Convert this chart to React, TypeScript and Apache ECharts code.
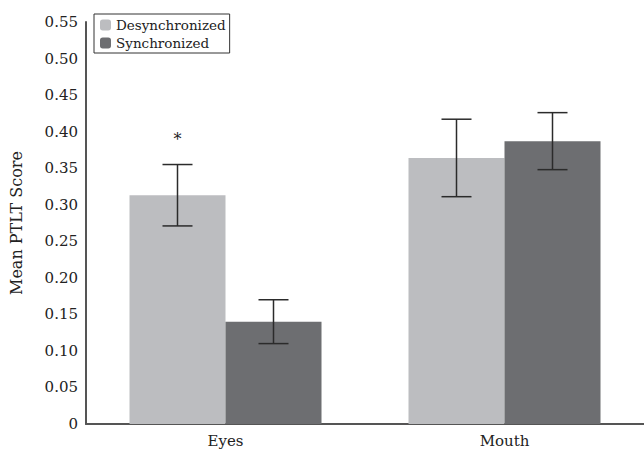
import React, { useEffect, useRef } from "react";
import * as echarts from "echarts";

const categories = ["Eyes", "Mouth"];
const desyncMeans = [0.313, 0.364];
const desyncErrors = [0.042, 0.053];
const syncMeans = [0.14, 0.387];
const syncErrors = [0.03, 0.039];
const desyncMarks = ["*", ""];
const syncMarks = ["", ""];
const yTicks = [0, 0.05, 0.1, 0.15, 0.2, 0.25, 0.3, 0.35, 0.4, 0.45, 0.5, 0.55];

const FONT = "'DejaVu Serif', 'Liberation Serif', serif";
const BAR_W = 96;

function errorSeries(name: string, means: number[], errs: number[], marks: string[], offset: number) {
  return {
    type: "custom",
    name: name + " error",
    z: 10,
    silent: true,
    data: means.map((m, i) => [i, m, errs[i]]),
    renderItem: (params: any, api: any) => {
      const i = api.value(0);
      const m = api.value(1);
      const e = api.value(2);
      const top = api.coord([i, m + e]);
      const bot = api.coord([i, m - e]);
      const x = top[0] + offset;
      const cap = 15;
      const stroke = { stroke: "#2b2b2b", lineWidth: 1.5 };
      const children: any[] = [
        { type: "line", shape: { x1: x, y1: top[1], x2: x, y2: bot[1] }, style: stroke },
        { type: "line", shape: { x1: x - cap, y1: top[1], x2: x + cap, y2: top[1] }, style: stroke },
        { type: "line", shape: { x1: x - cap, y1: bot[1], x2: x + cap, y2: bot[1] }, style: stroke },
      ];
      const mark = marks[params.dataIndex];
      if (mark) {
        children.push({
          type: "text",
          style: {
            text: mark,
            x: x,
            y: top[1] - 25,
            textAlign: "center",
            textVerticalAlign: "middle",
            font: "16px " + FONT,
            fill: "#222",
          },
        });
      }
      return { type: "group", children };
    },
  };
}

export default function App() {
  const ref = useRef<HTMLDivElement>(null);
  useEffect(() => {
    if (!ref.current) return;
    const chart = echarts.init(ref.current, undefined, { renderer: "svg" });
    chart.setOption({
      animation: false,
      backgroundColor: "#ffffff",
      grid: { left: 86, right: 0, top: 22, bottom: 26, containLabel: false },
      legend: {
        orient: "vertical",
        left: 94,
        top: 14,
        itemWidth: 11,
        itemHeight: 11,
        itemGap: 4,
        padding: [4, 4, 3, 6],
        borderColor: "#333",
        borderWidth: 1,
        borderRadius: 0,
        icon: "roundRect",
        textStyle: { fontFamily: FONT, fontSize: 13.5, color: "#222" },
        data: ["Desynchronized", "Synchronized"],
      },
      xAxis: {
        type: "category",
        data: categories,
        axisLine: { lineStyle: { color: "#555", width: 2 } },
        axisTick: { show: false },
        axisLabel: { fontFamily: FONT, fontSize: 15, color: "#222", margin: 9 },
      },
      yAxis: {
        type: "value",
        min: 0,
        max: yTicks[yTicks.length - 1],
        interval: 0.05,
        name: "Mean PTLT Score",
        nameLocation: "middle",
        nameGap: 62,
        nameTextStyle: { fontFamily: FONT, fontSize: 16, color: "#222" },
        axisLine: { show: true, lineStyle: { color: "#555", width: 2 } },
        axisTick: { show: false },
        splitLine: { show: false },
        axisLabel: {
          fontFamily: FONT,
          fontSize: 15,
          color: "#222",
          margin: 8,
          formatter: (v: number) => (Math.abs(v) < 1e-9 ? "0" : v.toFixed(2)),
        },
      },
      series: [
        {
          type: "bar",
          name: "Desynchronized",
          data: desyncMeans,
          barWidth: BAR_W,
          barGap: "0%",
          itemStyle: { color: "#bcbdc0" },
        },
        {
          type: "bar",
          name: "Synchronized",
          data: syncMeans,
          barWidth: BAR_W,
          barGap: "0%",
          itemStyle: { color: "#6d6e71" },
        },
        errorSeries("Desynchronized", desyncMeans, desyncErrors, desyncMarks, -BAR_W / 2),
        errorSeries("Synchronized", syncMeans, syncErrors, syncMarks, BAR_W / 2),
      ],
    });
    return () => chart.dispose();
  }, []);
  return (
    <div
      ref={ref}
      style={{ position: "fixed", left: 0, top: 0, width: 644, height: 450 }}
    />
  );
}
